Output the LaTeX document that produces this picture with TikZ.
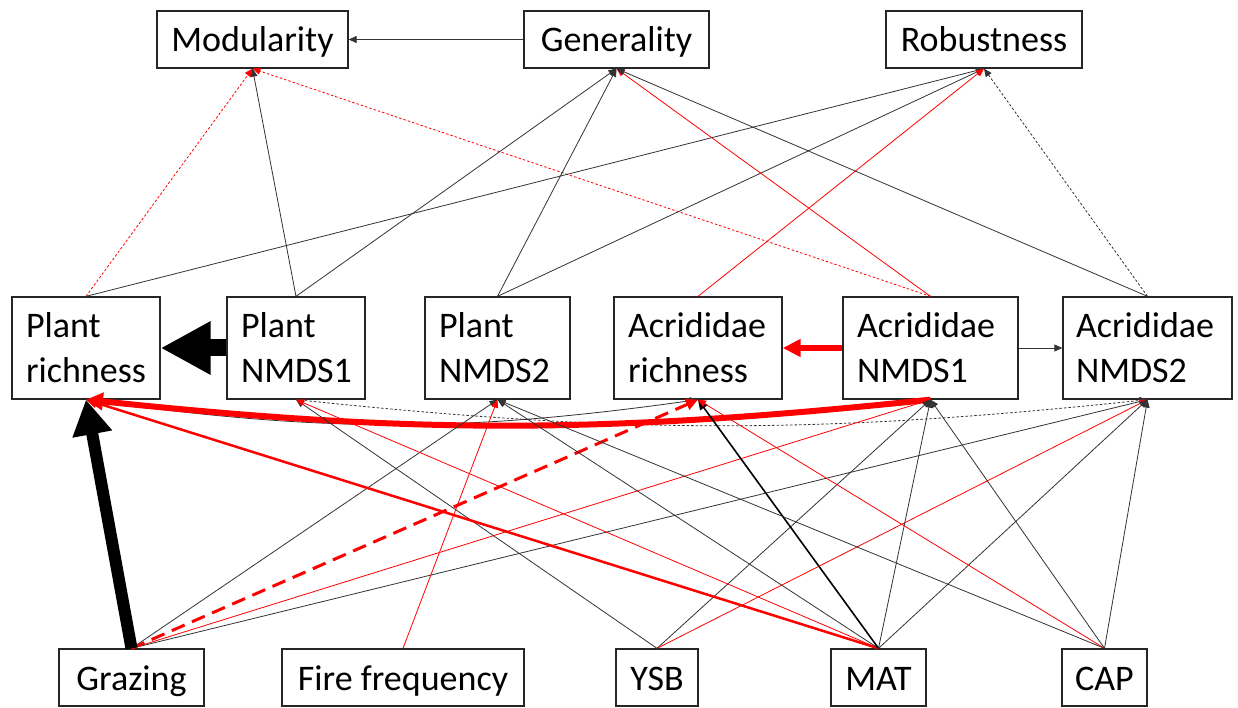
\documentclass[tikz,border=0pt]{standalone}
\usepackage{fontspec}
\setmainfont{Carlito}
\usetikzlibrary{arrows.meta}
\begin{document}
\begin{tikzpicture}[x=1pt,y=1pt,
  box/.style={draw=black!85, line width=1.3pt, rectangle, inner sep=0pt,
    minimum height=57pt, text height=28pt, text depth=3pt,
    font=\fontsize{36}{45}\selectfont},
  tbox/.style={draw=black!85, line width=1.3pt, rectangle, inner sep=0pt,
    minimum height=102pt, align=left, font=\fontsize{36}{45}\selectfont},
  thinarrow/.style={line width=0.8pt, -{Triangle[length=8pt,width=7pt]}},
  blk/.style={thinarrow, draw=black!80},
  rdl/.style={thinarrow, draw=red},
  dotd/.style={dash pattern=on 2.5pt off 2pt},
]
\useasboundingbox[fill=white] (0,0) rectangle (1238,707);

% top row
\node[box, minimum width=191pt] (Mod) at (252.5,667.5) {Modularity};
\node[box, minimum width=185pt] (Gen) at (616.5,667.5) {Generality};
\node[box, minimum width=196pt] (Rob) at (984,667.5) {Robustness};

% middle row
\node[tbox, minimum width=148pt, text width=120pt] (PR) at (86,359) {Plant\\richness};
\node[tbox, minimum width=138pt, text width=110pt] (PN1) at (296,359) {Plant\\NMDS1};
\node[tbox, minimum width=145pt, text width=117pt] (PN2) at (497.5,359) {Plant\\NMDS2};
\node[tbox, minimum width=168pt, text width=140pt] (AR) at (698,359) {Acrididae\\richness};
\node[tbox, minimum width=175pt, text width=147pt] (AN1) at (930.5,359) {Acrididae\\NMDS1};
\node[tbox, minimum width=169pt, text width=143pt] (AN2) at (1147.5,359) {Acrididae\\NMDS2};

% bottom row
\node[box, minimum width=145pt] (Graz) at (131.5,29.5) {Grazing};
\node[box, minimum width=242pt] (Fire) at (403,29.5) {Fire frequency};
\node[box, minimum width=82pt] (YSB) at (657,29.5) {YSB};
\node[box, minimum width=95pt] (MAT) at (878.5,29.5) {MAT};
\node[box, minimum width=85pt] (CAP) at (1104.5,29.5) {CAP};

% to top row
\draw[blk] (Gen.west) -- (Mod.east);
\draw[rdl, dotd] (PR.north) -- (Mod.south);
\draw[blk] (PN1.north) -- (Mod.south);
\draw[rdl, dotd] (AN1.north) -- (Mod.south);
\draw[blk] (PR.north) -- (Rob.south);
\draw[blk] (PN1.north) -- (Gen.south);
\draw[blk] (PN2.north) -- (Gen.south);
\draw[blk] (PN2.north) -- (Rob.south);
\draw[rdl] (AR.north) -- (Rob.south);
\draw[rdl] (AN1.north) -- (Gen.south);
\draw[blk] (AN2.north) -- (Gen.south);
\draw[blk, dotd] (AN2.north) -- (Rob.south);

% middle row
\draw[line width=17pt, -{Triangle[length=50pt,width=50pt]}] (PN1.west) -- (PR.east);
\draw[red, line width=6pt, -{Triangle[length=18pt,width=17pt]}] (AN1.west) -- (AR.east);
\draw[blk] (AN1.east) -- (AN2.west);

% curves
\draw[blk, dotd] (PN1.south) to[bend right=6] (AN2.south);
\draw[blk] (PR.south) to[bend right=8] (AR.south);
\draw[red, line width=6pt, -{Triangle[length=17pt,width=17pt]}] (AN1.south) to[bend left=6] (PR.south);

% from bottom row
\draw[rdl] (Graz.north) -- (AN1.south);
\draw[blk] (Graz.north) -- (AN2.south);
\draw[blk] (Graz.north) -- (PN2.south);
\draw[red, line width=3pt, dash pattern=on 14pt off 8pt, -{Triangle[length=12pt,width=11pt]}] (Graz.north) -- (AR.south);
\draw[line width=12pt, -{Triangle[length=35pt,width=38pt]}] (Graz.north) -- (PR.south);
\draw[rdl] (Fire.north) -- (PN2.south);
\draw[blk] (YSB.north) -- (PN1.south);
\draw[blk] (YSB.north) -- (AN1.south);
\draw[rdl] (YSB.north) -- (AN2.south);
\draw[red, line width=2.5pt, -{Triangle[length=11pt,width=10pt]}] (MAT.north) -- (PR.south);
\draw[rdl] (MAT.north) -- (PN1.south);
\draw[blk] (MAT.north) -- (PN2.south);
\draw[line width=1.6pt, -{Triangle[length=10pt,width=9pt]}] (MAT.north) -- (AR.south);
\draw[blk] (MAT.north) -- (AN1.south);
\draw[blk] (MAT.north) -- (AN2.south);
\draw[blk] (CAP.north) -- (PN2.south);
\draw[rdl] (CAP.north) -- (AR.south);
\draw[blk] (CAP.north) -- (AN1.south);
\draw[blk] (CAP.north) -- (AN2.south);
\end{tikzpicture}
\end{document}
